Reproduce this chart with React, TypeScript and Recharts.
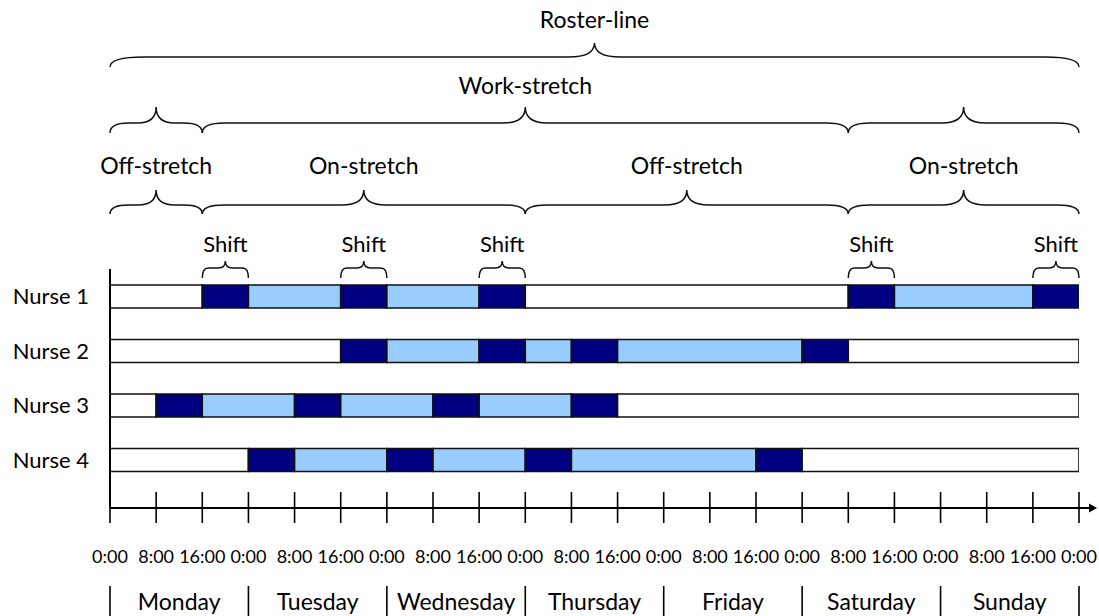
import React from "react";
import { BarChart, Bar, XAxis, YAxis, Cell, ReferenceArea } from "recharts";

// ---------- data (lengths in 8-hour shift units) ----------
const nurseNames = ["Nurse 1", "Nurse 2", "Nurse 3", "Nurse 4"];

const nurse1Lengths = [2, 1, 2, 1, 2, 1, 7, 1, 3, 1];
const nurse1Kinds = ["off", "shift", "rest", "shift", "rest", "shift", "off", "shift", "rest", "shift"];
const nurse2Lengths = [5, 1, 2, 1, 1, 1, 4, 1, 5];
const nurse2Kinds = ["off", "shift", "rest", "shift", "rest", "shift", "rest", "shift", "off"];
const nurse3Lengths = [1, 1, 2, 1, 2, 1, 2, 1, 10];
const nurse3Kinds = ["off", "shift", "rest", "shift", "rest", "shift", "rest", "shift", "off"];
const nurse4Lengths = [3, 1, 2, 1, 2, 1, 4, 1, 6];
const nurse4Kinds = ["off", "shift", "rest", "shift", "rest", "shift", "rest", "shift", "off"];

const hourTicks = [0, 1, 2, 3, 4, 5, 6, 7, 8, 9, 10, 11, 12, 13, 14, 15, 16, 17, 18, 19, 20, 21];
const hourLabels = [
  "0:00", "8:00", "16:00", "0:00", "8:00", "16:00", "0:00", "8:00", "16:00", "0:00", "8:00",
  "16:00", "0:00", "8:00", "16:00", "0:00", "8:00", "16:00", "0:00", "8:00", "16:00", "0:00",
];
const dayNames = ["Monday", "Tuesday", "Wednesday", "Thursday", "Friday", "Saturday", "Sunday"];
const dayTicks = [0, 1.5, 3, 4.5, 6, 7.5, 9, 10.5, 12, 13.5, 15, 16.5, 18, 19.5, 21];

const rosterBraces = [{ from: 0, to: 21, label: "Roster-line" }];
const workBraces = [
  { from: 0, to: 2, label: "" },
  { from: 2, to: 16, label: "Work-stretch" },
  { from: 16, to: 21, label: "" },
];
const stretchBraces = [
  { from: 0, to: 2, label: "Off-stretch" },
  { from: 2, to: 9, label: "On-stretch" },
  { from: 9, to: 16, label: "Off-stretch" },
  { from: 16, to: 21, label: "On-stretch" },
];
const shiftBraces = [
  { from: 2, to: 3, label: "Shift" },
  { from: 5, to: 6, label: "Shift" },
  { from: 8, to: 9, label: "Shift" },
  { from: 16, to: 17, label: "Shift" },
  { from: 20, to: 21, label: "Shift" },
];

// ---------- styling ----------
const FONT = "Lato, 'Open Sans', sans-serif";
const kindColors: Record<string, string> = { off: "#FFFFFF", shift: "#000080", rest: "#99CCFF" };

const lengthsList = [nurse1Lengths, nurse2Lengths, nurse3Lengths, nurse4Lengths];
const kindsList = [nurse1Kinds, nurse2Kinds, nurse3Kinds, nurse4Kinds];
const maxSegs = Math.max(...lengthsList.map((l) => l.length));

const data = nurseNames.map((name, i) => {
  const row: any = { name };
  lengthsList[i].forEach((v, j) => {
    row[`s${j}`] = v;
  });
  return row;
});

type BraceStyle = { tip: number; flat: number; end: number; labelY: number; rEnd: number; rTip: number; fontSize: number };
const rosterStyle: BraceStyle = { tip: 43, flat: 57, end: 67, labelY: 19, rEnd: 34, rTip: 26, fontSize: 23 };
const workStyle: BraceStyle = { tip: 107, flat: 123, end: 133, labelY: 85, rEnd: 22, rTip: 22, fontSize: 23 };
const stretchStyle: BraceStyle = { tip: 190, flat: 205, end: 214, labelY: 165, rEnd: 22, rTip: 22, fontSize: 23 };
const shiftStyle: BraceStyle = { tip: 261, flat: 268, end: 278, labelY: 243, rEnd: 6, rTip: 7, fontSize: 22 };

function bracePath(x1: number, x2: number, s: BraceStyle) {
  const w = x2 - x1;
  const rE = Math.min(s.rEnd, w / 5);
  const rT = Math.min(s.rTip, w / 5);
  const m = (x1 + x2) / 2;
  return [
    `M${x1},${s.end}`,
    `Q${x1},${s.flat} ${x1 + rE},${s.flat}`,
    `L${m - rT},${s.flat}`,
    `Q${m},${s.flat} ${m},${s.tip}`,
    `Q${m},${s.flat} ${m + rT},${s.flat}`,
    `L${x2 - rE},${s.flat}`,
    `Q${x2},${s.flat} ${x2},${s.end}`,
  ].join(" ");
}

const makeBraceShape = (s: BraceStyle, label: string) => (props: any) => {
  const { x, width } = props;
  const x1 = x;
  const x2 = x + width;
  return (
    <g>
      <path d={bracePath(x1, x2, s)} fill="none" stroke="#111" strokeWidth={1.5} />
      {label ? (
        <text
          x={(x1 + x2) / 2}
          y={s.labelY}
          textAnchor="middle"
          dominantBaseline="central"
          fontSize={s.fontSize}
          fontFamily={FONT}
          fill="#000"
        >
          {label}
        </text>
      ) : null}
    </g>
  );
};

const HourTick = (props: any) => {
  const { x, y, payload } = props;
  const v = payload.value;
  return (
    <g>
      <line x1={x} x2={x} y1={y - 16} y2={y + 15} stroke="#000" strokeWidth={1.6} />
      <text x={x} y={y + 48} textAnchor="middle" dominantBaseline="central" fontSize={18} fontFamily={FONT} fill="#000">
        {hourLabels[v]}
      </text>
      {v === 21 ? (
        <g>
          <line x1={x} x2={x + 12} y1={y} y2={y} stroke="#000" strokeWidth={2} />
          <path d={`M${x + 10},${y - 4.5} L${x + 18},${y} L${x + 10},${y + 4.5} Z`} fill="#000" />
        </g>
      ) : null}
    </g>
  );
};

const DayTick = (props: any) => {
  const { x, y, payload } = props;
  const v = payload.value;
  if (v % 3 === 0) {
    return <line x1={x} x2={x} y1={y + 8} y2={y + 40} stroke="#000" strokeWidth={1.6} />;
  }
  return (
    <text x={x} y={y + 23} textAnchor="middle" dominantBaseline="central" fontSize={23} fontFamily={FONT} fill="#000">
      {dayNames[Math.floor(v / 3)]}
    </text>
  );
};

const braceGroups: { list: { from: number; to: number; label: string }[]; style: BraceStyle }[] = [
  { list: rosterBraces, style: rosterStyle },
  { list: workBraces, style: workStyle },
  { list: stretchBraces, style: stretchStyle },
  { list: shiftBraces, style: shiftStyle },
];

export default function App() {
  return (
    <div style={{ width: 1099, height: 616, background: "#fff" }}>
      <style>{"body{margin:0;background:#fff}"}</style>
      <BarChart
        width={1099}
        height={616}
        data={data}
        layout="vertical"
        margin={{ top: 269, right: 20, bottom: 0, left: 0 }}
      >
        <XAxis
          type="number"
          domain={[0, 21]}
          ticks={hourTicks}
          interval={0}
          tickSize={0}
          tickMargin={0}
          height={70}
          axisLine={{ stroke: "#000", strokeWidth: 2 }}
          tickLine={false}
          tick={HourTick}
          allowDataOverflow
        />
        <XAxis
          xAxisId="day"
          type="number"
          domain={[0, 21]}
          ticks={dayTicks}
          interval={0}
          tickSize={0}
          tickMargin={0}
          height={38}
          axisLine={false}
          tickLine={false}
          tick={DayTick}
          allowDataOverflow
        />
        <YAxis
          type="category"
          dataKey="name"
          width={110}
          tickSize={0}
          tickMargin={21}
          tickLine={false}
          axisLine={{ stroke: "#000", strokeWidth: 2 }}
          padding={{ top: 0, bottom: 21 }}
          tick={{ fontSize: 22, fill: "#000", fontFamily: FONT }}
        />
        {Array.from({ length: maxSegs }).map((_, j) => (
          <Bar
            key={`s${j}`}
            dataKey={`s${j}`}
            stackId="a"
            barSize={23}
            stroke="#111"
            strokeWidth={1.6}
            isAnimationActive={false}
          >
            {data.map((_, i) => (
              <Cell key={`c${i}-${j}`} fill={kindColors[kindsList[i][j]] ?? "none"} />
            ))}
          </Bar>
        ))}
        {braceGroups.flatMap((g, gi) =>
          g.list.map((b, bi) => (
            <ReferenceArea
              key={`b${gi}-${bi}`}
              x1={b.from}
              x2={b.to}
              fill="none"
              stroke="none"
              shape={makeBraceShape(g.style, b.label)}
            />
          ))
        )}
      </BarChart>
    </div>
  );
}
